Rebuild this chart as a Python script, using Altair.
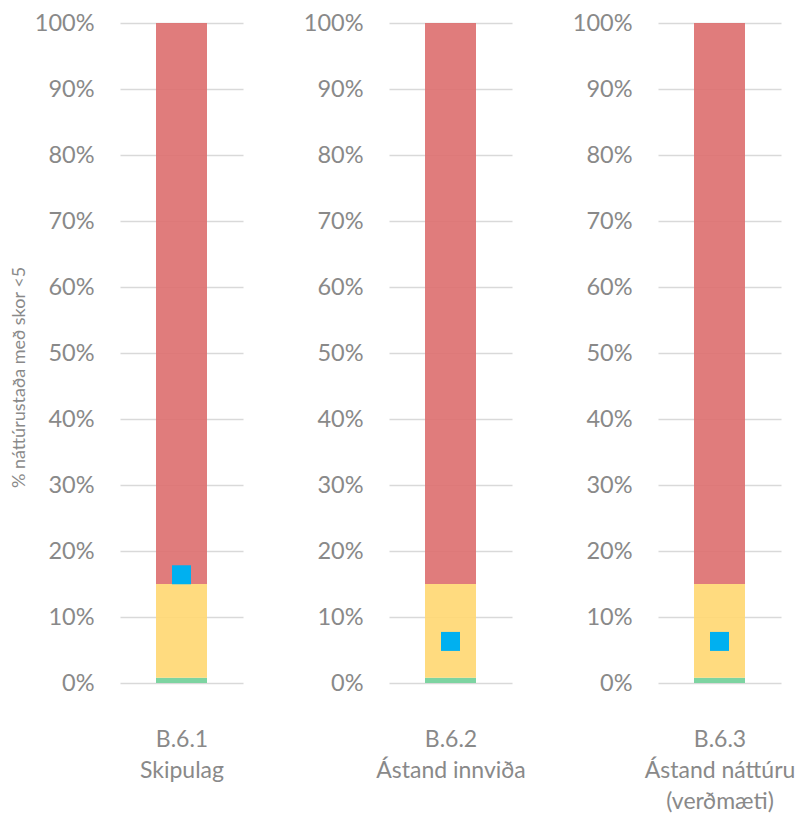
import altair as alt
import pandas as pd

categories = ["B.6.1", "B.6.2", "B.6.3"]
cat_lines = [["B.6.1", "Skipulag"], ["B.6.2", "Ástand innviða"], ["B.6.3", "Ástand náttúru", "(verðmæti)"]]
green_vals = [0.008, 0.008, 0.008]
yellow_vals = [0.142, 0.142, 0.142]
red_vals = [0.85, 0.85, 0.85]
marker_vals = [0.164, 0.063, 0.063]

seg_names = ["græn", "gul", "rauð"]
seg_colors = ["#72D099", "#FFD874", "#DD7171"]

FONT = "Lato"
GRAY = "#898989"


def panel(i):
    rows = []
    start = 0.0
    for name, val in zip(seg_names, [green_vals[i], yellow_vals[i], red_vals[i]]):
        rows.append({"cat": categories[i], "seg": name, "start": start, "end": start + val})
        start += val
    df = pd.DataFrame(rows)
    mdf = pd.DataFrame({"cat": [categories[i]], "marker": [marker_vals[i]]})
    ytitle = "% náttúrustaða með skor <5" if i == 0 else ""
    yaxis = alt.Axis(
        format="%", values=[k / 10 for k in range(11)], grid=True, gridColor="#D9D9D9",
        gridWidth=1.3, domain=False, ticks=False, labelPadding=26, labelFont=FONT,
        labelFontSize=23.5, labelColor=GRAY, title=ytitle, titleFont=FONT,
        titleFontSize=18, titleColor=GRAY, titleFontWeight="normal", titlePadding=6,
        titleY=354,
    )
    xaxis = alt.Axis(
        labels=False, ticks=False, domain=False, title=cat_lines[i], titleFont=FONT,
        titleFontSize=23, titleColor=GRAY, titleFontWeight="normal", titlePadding=45,
        titleLineHeight=31,
    )
    bars = alt.Chart(df).mark_bar(size=51, opacity=0.92).encode(
        x=alt.X("cat:N", axis=xaxis),
        y=alt.Y("start:Q", scale=alt.Scale(domain=[0, 1]), axis=yaxis),
        y2="end:Q",
        color=alt.Color("seg:N", scale=alt.Scale(domain=seg_names, range=seg_colors), legend=None),
    )
    pts = alt.Chart(mdf).mark_square(size=361, color="#00B0F0", opacity=1).encode(
        x=alt.X("cat:N"), y=alt.Y("marker:Q")
    )
    return alt.layer(bars, pts).properties(width=123, height=660)


chart = alt.hconcat(panel(0), panel(1), panel(2), spacing=146, bounds="flush").configure_view(
    stroke=None
).properties(padding={"left": 2, "top": 3, "right": 0, "bottom": 0})

chart.save("out.html", embed_options={"renderer": "svg", "actions": False})
